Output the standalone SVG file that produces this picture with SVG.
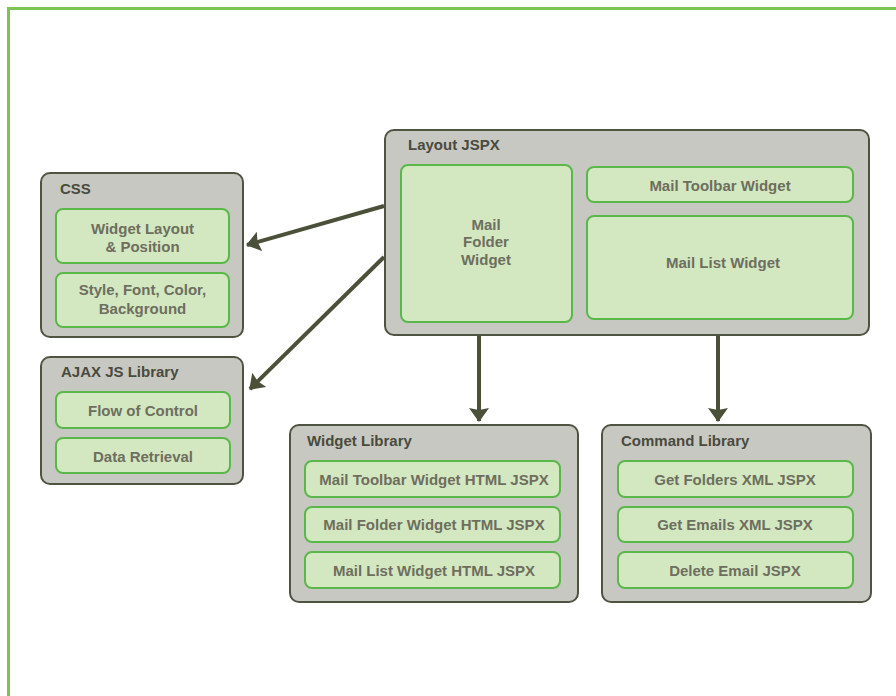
<svg xmlns="http://www.w3.org/2000/svg" width="896" height="696" viewBox="0 0 896 696">
  <style>
    .frame { fill: #ffffff; stroke: #7ec352; stroke-width: 3; }
    .box { fill: #c8c8c2; stroke: #4f5342; stroke-width: 2; }
    .item { fill: #d3e8c1; stroke: #5ab84a; stroke-width: 2; }
    .title { font-family: "Liberation Sans", Arial, sans-serif; font-weight: bold; font-size: 15px; fill: #484b3d; }
    .label { font-family: "Liberation Sans", Arial, sans-serif; font-weight: bold; font-size: 15px; fill: #6e6e5e; text-anchor: middle; }
    .conn { fill: none; stroke: #4b5139; stroke-width: 4; }
  </style>
  <defs>
    <marker id="head" markerUnits="userSpaceOnUse" markerWidth="16" markerHeight="20" refX="13" refY="10" orient="auto">
      <path d="M0,0 L14,10 L0,20 L2,10 z" fill="#4b5139"/>
    </marker>
  </defs>

  <rect class="frame" x="8.5" y="8.5" width="900" height="700"/>

  <g id="connectors">
    <line class="conn" x1="384" y1="206" x2="247" y2="245" marker-end="url(#head)"/>
    <line class="conn" x1="384" y1="257" x2="250" y2="389" marker-end="url(#head)"/>
    <line class="conn" x1="479" y1="336" x2="479" y2="421" marker-end="url(#head)"/>
    <line class="conn" x1="718" y1="336" x2="718" y2="421" marker-end="url(#head)"/>
  </g>

  <g id="css">
    <rect class="box" x="41" y="173" width="202" height="164" rx="9"/>
    <text class="title" x="60" y="194">CSS</text>
    <rect class="item" x="56" y="209" width="173" height="54" rx="7"/>
    <text class="label" x="142.5" y="234">Widget Layout</text>
    <text class="label" x="142.5" y="252">&amp; Position</text>
    <rect class="item" x="56" y="273" width="173" height="54" rx="7"/>
    <text class="label" x="142.5" y="295">Style, Font, Color,</text>
    <text class="label" x="142.5" y="314">Background</text>
  </g>

  <g id="ajax">
    <rect class="box" x="41" y="357" width="202" height="127" rx="9"/>
    <text class="title" x="61" y="377">AJAX JS Library</text>
    <rect class="item" x="56" y="392" width="174" height="36" rx="7"/>
    <text class="label" x="143" y="416">Flow of Control</text>
    <rect class="item" x="56" y="438" width="174" height="35" rx="7"/>
    <text class="label" x="143" y="462">Data Retrieval</text>
  </g>

  <g id="layout">
    <rect class="box" x="385" y="130" width="484" height="205" rx="9"/>
    <text class="title" x="408" y="150">Layout JSPX</text>
    <rect class="item" x="401" y="165" width="171" height="157" rx="7"/>
    <text class="label" x="486" y="230">Mail</text>
    <text class="label" x="486" y="247">Folder</text>
    <text class="label" x="486" y="265">Widget</text>
    <rect class="item" x="587" y="167" width="266" height="35" rx="7"/>
    <text class="label" x="720" y="191">Mail Toolbar Widget</text>
    <rect class="item" x="587" y="216" width="266" height="103" rx="7"/>
    <text class="label" x="723" y="268">Mail List Widget</text>
  </g>

  <g id="widget-library">
    <rect class="box" x="290" y="425" width="288" height="177" rx="9"/>
    <text class="title" x="307" y="446">Widget Library</text>
    <rect class="item" x="305" y="461" width="255" height="36" rx="7"/>
    <text class="label" x="434" y="485">Mail Toolbar Widget HTML JSPX</text>
    <rect class="item" x="305" y="507" width="255" height="35" rx="7"/>
    <text class="label" x="434" y="530">Mail Folder Widget HTML JSPX</text>
    <rect class="item" x="305" y="552" width="255" height="36" rx="7"/>
    <text class="label" x="434" y="576">Mail List Widget HTML JSPX</text>
  </g>

  <g id="command-library">
    <rect class="box" x="602" y="425" width="269" height="177" rx="9"/>
    <text class="title" x="621" y="446">Command Library</text>
    <rect class="item" x="618" y="461" width="235" height="36" rx="7"/>
    <text class="label" x="735" y="485">Get Folders XML JSPX</text>
    <rect class="item" x="618" y="507" width="235" height="35" rx="7"/>
    <text class="label" x="735" y="530">Get Emails XML JSPX</text>
    <rect class="item" x="618" y="552" width="235" height="36" rx="7"/>
    <text class="label" x="735" y="576">Delete Email JSPX</text>
  </g>
</svg>
